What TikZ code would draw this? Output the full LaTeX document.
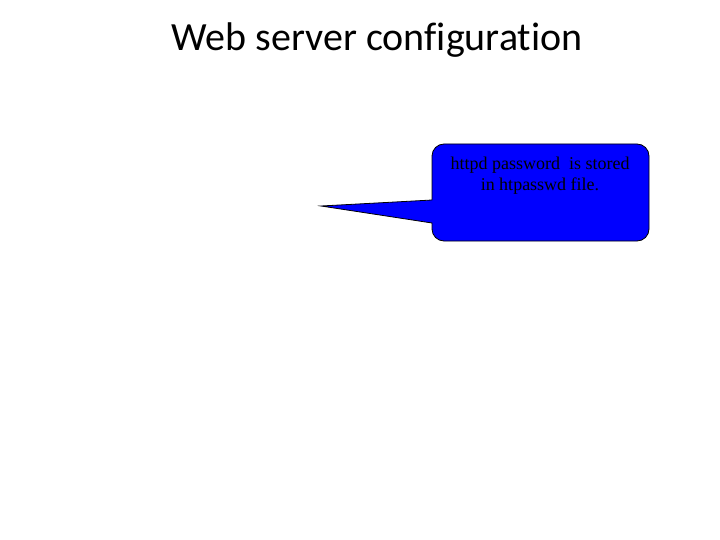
\documentclass[tikz,border=0pt]{standalone}
\usepackage{fontspec}
\setmainfont{Liberation Serif}
\newfontfamily\titlefont[Ligatures=NoCommon]{Carlito}
\begin{document}
\begin{tikzpicture}[x=1pt,y=-1pt,
  titlestyle/.style={font=\titlefont\fontsize{40}{48}\selectfont, inner sep=0pt},
  notestyle/.style={font=\fontsize{18}{21}\selectfont, align=center, inner sep=0pt},
  bubble/.style={draw=black, line width=0.8pt, fill=blue}]
\useasboundingbox (0,0) rectangle (720,540);
\node[titlestyle, anchor=base] (title) at (377,51) {Web server configuration};
\coordinate (tip) at (321,206);
\draw[bubble] (tip) -- (432,200) [rounded corners=12pt] -- (432,144) -- (649,144) -- (649,241) -- (432,241) [sharp corners] -- (432,223) -- cycle;
\node[notestyle, anchor=base] (note) at (540,191) {httpd password\ \ is stored\\in htpasswd file.};
\end{tikzpicture}
\end{document}
